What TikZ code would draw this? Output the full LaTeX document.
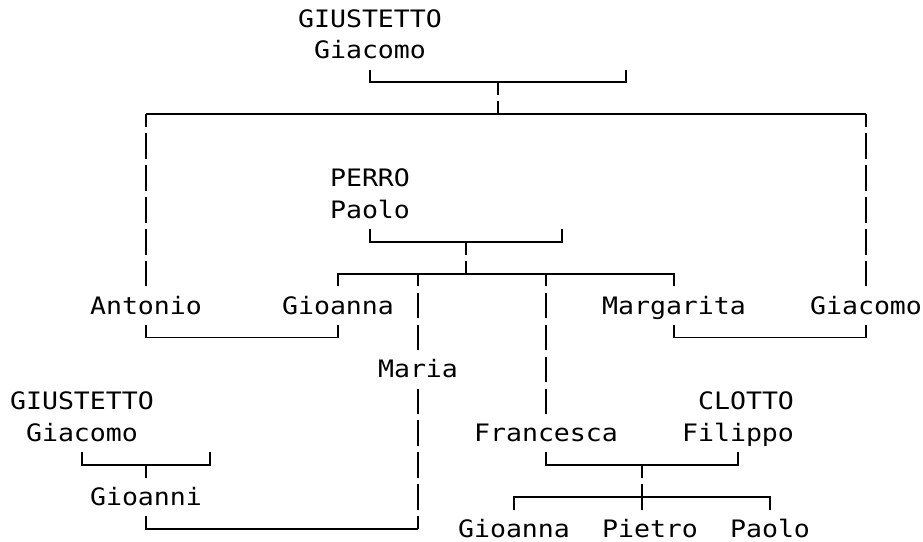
\documentclass[tikz,border=0pt]{standalone}
\usepackage{fontspec}
\newfontfamily\treefont[FakeStretch=1.107]{DejaVu Sans Mono}
\usepackage{tikz}
\usetikzlibrary{calc}

\begin{document}
\begin{tikzpicture}[x=16pt, y=-31.9pt,
  person/.style={font=\treefont\fontsize{24}{31.9}\selectfont, anchor=base, inner sep=0pt, text depth=0pt, yshift=-8.5pt},
  link/.style={line width=1.9pt},
  bar/.style={link, dash pattern=on 25.5pt off 6.4pt, dash phase=12.75pt}]

\useasboundingbox (-2pt,18.5pt) rectangle (921pt,-522.5pt);

% righe del disegno
\foreach \k in {0,...,16} \coordinate (r\k) at (0,\k);

\node[person] (giustettoT) at (23,0)  {GIUSTETTO};
\node[person] (giacomoT)   at (23,1)  {Giacomo};
\coordinate (wifeT) at (39,1);

\node[person] (perro) at (23,5) {PERRO};
\node[person] (paolo) at (23,6) {Paolo};
\coordinate (wifeP) at (35,6);

\node[person] (antonio)   at (9,9)  {Antonio};
\node[person] (gioannaA)  at (21,9) {Gioanna};
\node[person] (margarita) at (42,9) {Margarita};
\node[person] (giacomoR)  at (54,9) {Giacomo};

\node[person] (maria) at (26,11) {Maria};

\node[person] (giustettoL) at (5,12)    {GIUSTETTO};
\node[person] (clotto)     at (46.5,12) {CLOTTO};
\node[person] (giacomoL)   at (5,13)    {Giacomo};
\coordinate (wifeL) at (13,13);
\node[person] (francesca)  at (34,13)   {Francesca};
\node[person] (filippo)    at (46,13)   {Filippo};

\node[person] (gioanni)  at (9,15)    {Gioanni};
\node[person] (gioannaB) at (32,16)   {Gioanna};
\node[person] (pietro)   at (40.5,16) {Pietro};
\node[person] (paoloB)   at (48,16)   {Paolo};

% GIUSTETTO Giacomo e figli
\draw[link] ($(giacomoT |- r2)+(0,12.75pt)$) -- (giacomoT |- r2) -- (wifeT |- r2) -- ++(0,12.75pt);
\coordinate (famT) at ($(giacomoT |- r2)!0.5!(wifeT |- r2)$);
\draw[bar] (famT) -- (famT |- r3);
\draw[link] (antonio |- r3) -- (giacomoR |- r3);
\draw[bar] (antonio |- r3) -- ($(antonio |- r8)+(0,-12.75pt)$);
\draw[bar] (giacomoR |- r3) -- ($(giacomoR |- r8)+(0,-12.75pt)$);

% PERRO Paolo e figlie
\draw[link] ($(paolo |- r7)+(0,12.75pt)$) -- (paolo |- r7) -- (wifeP |- r7) -- ++(0,12.75pt);
\coordinate (famP) at ($(paolo |- r7)!0.5!(wifeP |- r7)$);
\draw[bar] (famP) -- (famP |- r8);
\draw[link] ($(gioannaA |- r8)+(0,-12.75pt)$) -- (gioannaA |- r8) -- (margarita |- r8) -- ++(0,-12.75pt);
\draw[bar] (maria |- r8) -- ($(maria |- r10)+(0,-12.75pt)$);
\draw[bar] (francesca |- r8) -- ($(francesca |- r12)+(0,-12.75pt)$);

% Antonio -- Gioanna
\draw[link] ($(antonio |- r10)+(0,12.75pt)$) -- (antonio |- r10) -- (gioannaA |- r10) -- ++(0,12.75pt);
% Margarita -- Giacomo
\draw[link] ($(margarita |- r10)+(0,12.75pt)$) -- (margarita |- r10) -- (giacomoR |- r10) -- ++(0,12.75pt);

% GIUSTETTO Giacomo -> Gioanni
\draw[link] ($(giacomoL |- r14)+(0,12.75pt)$) -- (giacomoL |- r14) -- (wifeL |- r14) -- ++(0,12.75pt);
\coordinate (famL) at ($(giacomoL |- r14)!0.5!(wifeL |- r14)$);
\draw[link] (famL) -- ++(0,-12.75pt);

% Francesca -- CLOTTO Filippo e figli
\draw[link] ($(francesca |- r14)+(0,12.75pt)$) -- (francesca |- r14) -- (filippo |- r14) -- ++(0,12.75pt);
\coordinate (famF) at ($(francesca |- r14)!0.5!(filippo |- r14)$);
\draw[bar] (famF) -- ($(famF |- r15)+(0,-12.75pt)$);
\draw[link] ($(gioannaB |- r15)+(0,-12.75pt)$) -- (gioannaB |- r15) -- (paoloB |- r15) -- ++(0,-12.75pt);

% Gioanni -- Maria
\draw[link] ($(gioanni |- r16)+(0,12.75pt)$) -- (gioanni |- r16) -- (maria |- r16);
\draw[bar] (maria |- r16) -- ($(maria |- r12)+(0,12.75pt)$);

\end{tikzpicture}
\end{document}
